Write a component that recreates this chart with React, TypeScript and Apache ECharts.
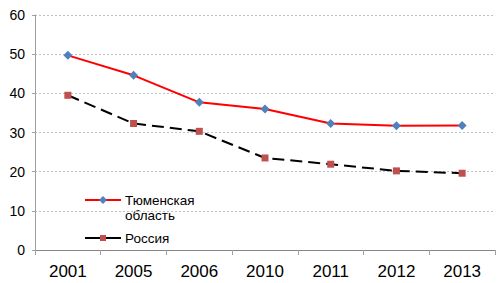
import React, { useEffect, useRef } from "react";
import * as echarts from "echarts";

const years = ["2001", "2005", "2006", "2010", "2011", "2012", "2013"];
const tyumen = [49.7, 44.6, 37.7, 36.0, 32.3, 31.7, 31.8];
const russia = [39.5, 32.3, 30.3, 23.5, 21.9, 20.2, 19.6];
const seriesNames = ["Тюменская\nобласть", "Россия"];

const RED = "#ff0000";
const BLUE = "#4f81bd";
const SQ = "#c0504d";
const FONT = "Liberation Sans, Arial, sans-serif";

export default function App() {
  const ref = useRef<HTMLDivElement>(null);
  useEffect(() => {
    document.body.style.margin = "0";
    const chart = echarts.init(ref.current!, null, { renderer: "svg" });
    chart.setOption({
      animation: false,
      backgroundColor: "#ffffff",
      grid: { left: 35, right: 8, top: 15, bottom: 33, outerBoundsMode: "none" },
      xAxis: {
        type: "category",
        data: years,
        boundaryGap: true,
        axisLine: { lineStyle: { color: "#868686", width: 1 } },
        axisTick: { show: true, length: 5, lineStyle: { color: "#a0a0a0" } },
        axisLabel: { color: "#000", fontSize: 17, fontFamily: FONT, margin: 13 },
      },
      yAxis: {
        type: "value",
        min: 0,
        max: 60,
        interval: 10,
        axisLine: { show: true, lineStyle: { color: "#a0a0a0" } },
        axisTick: { show: true, length: 3, lineStyle: { color: "#a0a0a0" } },
        axisLabel: { color: "#000", fontSize: 14, fontFamily: FONT, margin: 10 },
        splitLine: { lineStyle: { color: "#c0c0c0", type: [2, 2], width: 1 } },
      },
      series: [
        {
          name: seriesNames[0],
          type: "line",
          data: tyumen,
          symbol: "diamond",
          symbolSize: 9,
          itemStyle: { color: BLUE },
          lineStyle: { color: RED, width: 2 },
        },
        {
          name: seriesNames[1],
          type: "line",
          data: russia,
          symbol: "rect",
          symbolSize: 7,
          itemStyle: { color: SQ },
          lineStyle: { color: "#000", width: 2, type: [12, 6] },
        },
      ],
      graphic: [
        { type: "line", shape: { x1: 85, y1: 200, x2: 121, y2: 200 }, style: { stroke: RED, lineWidth: 2 } },
        { type: "polygon", shape: { points: [[103, 196], [107, 200], [103, 204], [99, 200]] }, style: { fill: BLUE } },
        { type: "text", x: 125, y: 200, style: { text: "Тюменская", font: `13.5px ${FONT}`, fill: "#000", verticalAlign: "middle" } },
        { type: "text", x: 125, y: 215, style: { text: "область", font: `13.5px ${FONT}`, fill: "#000", verticalAlign: "middle" } },
        { type: "line", shape: { x1: 85, y1: 238, x2: 121, y2: 238 }, style: { stroke: "#000", lineWidth: 2 } },
        { type: "rect", shape: { x: 100, y: 235, width: 6, height: 6 }, style: { fill: SQ } },
        { type: "text", x: 125, y: 238, style: { text: "Россия", font: `13.5px ${FONT}`, fill: "#000", verticalAlign: "middle" } },
      ],
    });
    return () => chart.dispose();
  }, []);
  return <div ref={ref} style={{ width: 503, height: 283 }} />;
}
